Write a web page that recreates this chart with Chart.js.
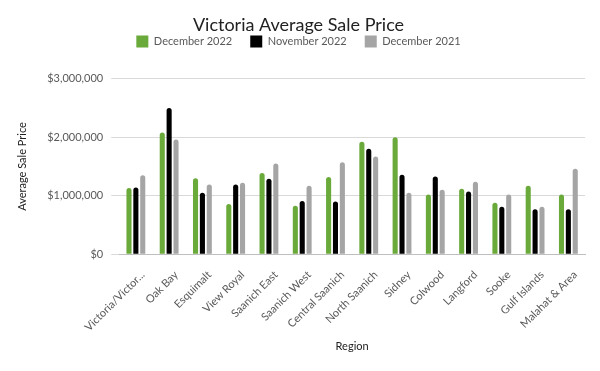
<!DOCTYPE html>
<html>
<head>
<meta charset="utf-8">
<script src="https://cdn.jsdelivr.net/npm/chart.js@4"></script>
<style>
  body { margin: 0; background: #fff; }
</style>
</head>
<body>
<canvas id="myChart" width="600" height="371"></canvas>
<script>
const regions = ['Victoria/Victor...', 'Oak Bay', 'Esquimalt', 'View Royal', 'Saanich East', 'Saanich West',
    'Central Saanich', 'North Saanich', 'Sidney', 'Colwood', 'Langford', 'Sooke', 'Gulf Islands', 'Malahat & Area'];

const dec2022 = [1130000, 2080000, 1300000, 860000, 1390000, 830000, 1320000, 1920000, 2000000, 1020000, 1120000, 880000, 1170000, 1020000];
const nov2022 = [1140000, 2500000, 1050000, 1190000, 1290000, 910000, 900000, 1800000, 1360000, 1330000, 1070000, 810000, 770000, 770000];
const dec2021 = [1350000, 1960000, 1190000, 1220000, 1550000, 1170000, 1570000, 1670000, 1050000, 1100000, 1240000, 1020000, 810000, 1460000];

const yTicks = [0, 1000000, 2000000, 3000000];

const font = "Lato, 'Open Sans', sans-serif";
const textColor = '#595959';

function bars(label, data, color) {
    return {
        label: label,
        data: data,
        backgroundColor: color,
        borderRadius: 3,
        categoryPercentage: 0.62,
        barPercentage: 0.74
    };
}

// push the plot down a bit below the legend
const legendGap = {
    id: 'legendGap',
    beforeInit(chart) {
        const fit = chart.legend.fit;
        chart.legend.fit = function () {
            fit.bind(chart.legend)();
            this.height += 21;
        };
    }
};

const ctx = document.getElementById('myChart').getContext('2d');

const myChart = new Chart(ctx, {
    type: 'bar',
    data: {
        labels: regions,
        datasets: [
            bars('December 2022', dec2022, '#6aaa3a'),
            bars('November 2022', nov2022, '#000000'),
            bars('December 2021', dec2021, '#a5a5a5')
        ]
    },
    plugins: [legendGap],
    options: {
        responsive: false,
        animation: false,
        layout: { padding: { left: 12, right: 15, top: 6, bottom: 14 } },
        plugins: {
            title: {
                display: true,
                text: 'Victoria Average Sale Price',
                color: '#222',
                font: { family: font, size: 18, weight: 'normal' },
                padding: { top: 8, bottom: -18 }
            },
            legend: {
                labels: {
                    color: textColor,
                    font: { family: font, size: 11 },
                    boxWidth: 12,
                    boxHeight: 12,
                    padding: 18
                }
            },
            tooltip: { enabled: false }
        },
        scales: {
            x: {
                grid: { display: false },
                border: { color: '#bfbfbf' },
                ticks: {
                    color: textColor,
                    font: { family: font, size: 11 },
                    maxRotation: 45,
                    minRotation: 45,
                    autoSkip: false,
                    padding: 6,
                    labelOffset: 7
                },
                title: {
                    display: true,
                    text: 'Region',
                    color: '#222',
                    font: { family: font, size: 11 },
                    padding: { top: 0, bottom: 4 }
                }
            },
            y: {
                min: 0,
                max: 3000000,
                afterBuildTicks: axis => { axis.ticks = yTicks.map(v => ({ value: v })); },
                grid: { color: '#d9d9d9' },
                border: { display: false },
                ticks: {
                    color: textColor,
                    font: { family: font, size: 11 },
                    padding: 8,
                    callback: v => '$' + v.toLocaleString('en-US')
                },
                title: {
                    display: true,
                    text: 'Average Sale Price',
                    color: '#222',
                    font: { family: font, size: 11 },
                    padding: { bottom: 10 }
                }
            }
        }
    }
});
</script>
</body>
</html>
